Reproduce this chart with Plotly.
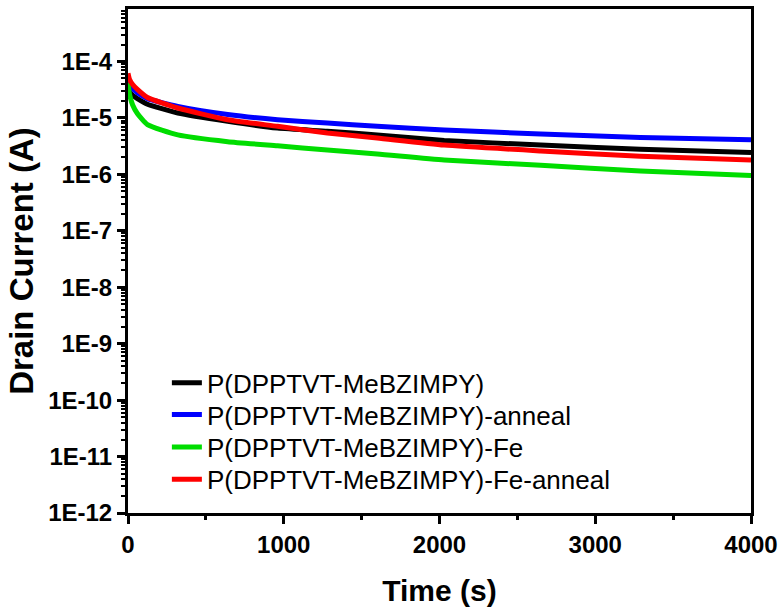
import plotly.graph_objects as go

# Time axis (s)
time_s = [0, 10, 30, 60, 125, 320, 640, 960, 1280, 1600, 2030, 2650, 3290, 4000]

# Drain current (A) for each sample
i_pristine = [3.5e-5, 2.9e-5, 2.5e-5, 2.2e-5, 1.75e-5, 1.22e-5, 8.7e-6, 6.6e-6, 5.8e-6,
              5.0e-6, 4.0e-6, 3.3e-6, 2.8e-6, 2.45e-6]
i_anneal = [4.8e-5, 3.9e-5, 3.3e-5, 2.8e-5, 2.2e-5, 1.6e-5, 1.15e-5, 9.3e-6, 8.1e-6,
            7.1e-6, 6.1e-6, 5.2e-6, 4.5e-6, 4.1e-6]
i_fe = [4.2e-5, 2.6e-5, 1.7e-5, 1.2e-5, 7.6e-6, 5.0e-6, 3.8e-6, 3.2e-6, 2.7e-6,
        2.3e-6, 1.8e-6, 1.45e-6, 1.15e-6, 9.5e-7]
i_fe_anneal = [6.2e-5, 4.8e-5, 3.9e-5, 3.2e-5, 2.3e-5, 1.5e-5, 9.3e-6, 7.1e-6, 5.4e-6,
               4.4e-6, 3.3e-6, 2.6e-6, 2.1e-6, 1.8e-6]

series_names = ["P(DPPTVT-MeBZIMPY)", "P(DPPTVT-MeBZIMPY)-anneal",
                "P(DPPTVT-MeBZIMPY)-Fe", "P(DPPTVT-MeBZIMPY)-Fe-anneal"]
series_values = [i_pristine, i_anneal, i_fe, i_fe_anneal]
series_colors = ["#000000", "#0000FF", "#00DD00", "#FF0000"]

# Axis ticks
x_ticks = [0, 1000, 2000, 3000, 4000]
x_minor = [500, 1500, 2500, 3500]
y_exponents = [-12, -11, -10, -9, -8, -7, -6, -5, -4]
y_ticks = [10.0 ** e for e in y_exponents]
y_ticktext = ["1E%d" % e for e in y_exponents]
y_minor = [m * 10.0 ** e for e in range(-12, -3) for m in range(2, 10)]

font_family = "Arial, Liberation Sans, sans-serif"

# one legend box per series, stacked like the original legend
legend_ids = ["legend", "legend2", "legend3", "legend4"]
legend_rows = [0.258, 0.195, 0.131, 0.067]

fig = go.Figure()
for name, vals, col, lid in zip(series_names, series_values, series_colors, legend_ids):
    fig.add_trace(go.Scatter(x=time_s, y=vals, mode="lines", name=name, legend=lid,
                             line=dict(color=col, width=5, shape="spline", smoothing=0.5)))

axis_common = dict(showline=True, linecolor="black", linewidth=3, mirror=True,
                   showgrid=False, zeroline=False, ticks="outside", tickwidth=3,
                   ticklen=8, tickcolor="black", automargin=False)

fig.update_xaxes(range=[0, 4000], tickvals=x_ticks,
                 tickfont=dict(family=font_family, size=24, color="black", weight="bold"),
                 title=dict(text="Time (s)", font=dict(family=font_family, size=30,
                                                        color="black", weight="bold"),
                            standoff=26),
                 minor=dict(tickvals=x_minor, ticks="outside", ticklen=4, tickwidth=3,
                            tickcolor="black"),
                 **axis_common)

fig.update_yaxes(type="log", range=[-12, -3.07], tickvals=y_ticks, ticktext=y_ticktext,
                 tickfont=dict(family=font_family, size=24, color="black", weight="bold"),
                 title=dict(text="Drain Current (A)", font=dict(family=font_family, size=33,
                                                                 color="black", weight="bold"),
                            standoff=5),
                 minor=dict(tickvals=y_minor, ticks="outside", ticklen=4, tickwidth=2,
                            tickcolor="black"),
                 **axis_common)

legend_style = dict(x=0.0624, xanchor="left", yanchor="middle",
                    bgcolor="rgba(0,0,0,0)", borderwidth=0,
                    font=dict(family=font_family, size=26, color="black"), itemwidth=30)

fig.update_layout(
    width=781, height=607,
    margin=dict(l=128, r=30, t=9, b=94),
    plot_bgcolor="white", paper_bgcolor="white",
    showlegend=True,
    legend=dict(y=legend_rows[0], **legend_style),
    legend2=dict(y=legend_rows[1], **legend_style),
    legend3=dict(y=legend_rows[2], **legend_style),
    legend4=dict(y=legend_rows[3], **legend_style),
)

fig.write_html("out.html", config={"displayModeBar": False},
               post_script="document.body.style.margin='0';document.body.style.padding='0';")
